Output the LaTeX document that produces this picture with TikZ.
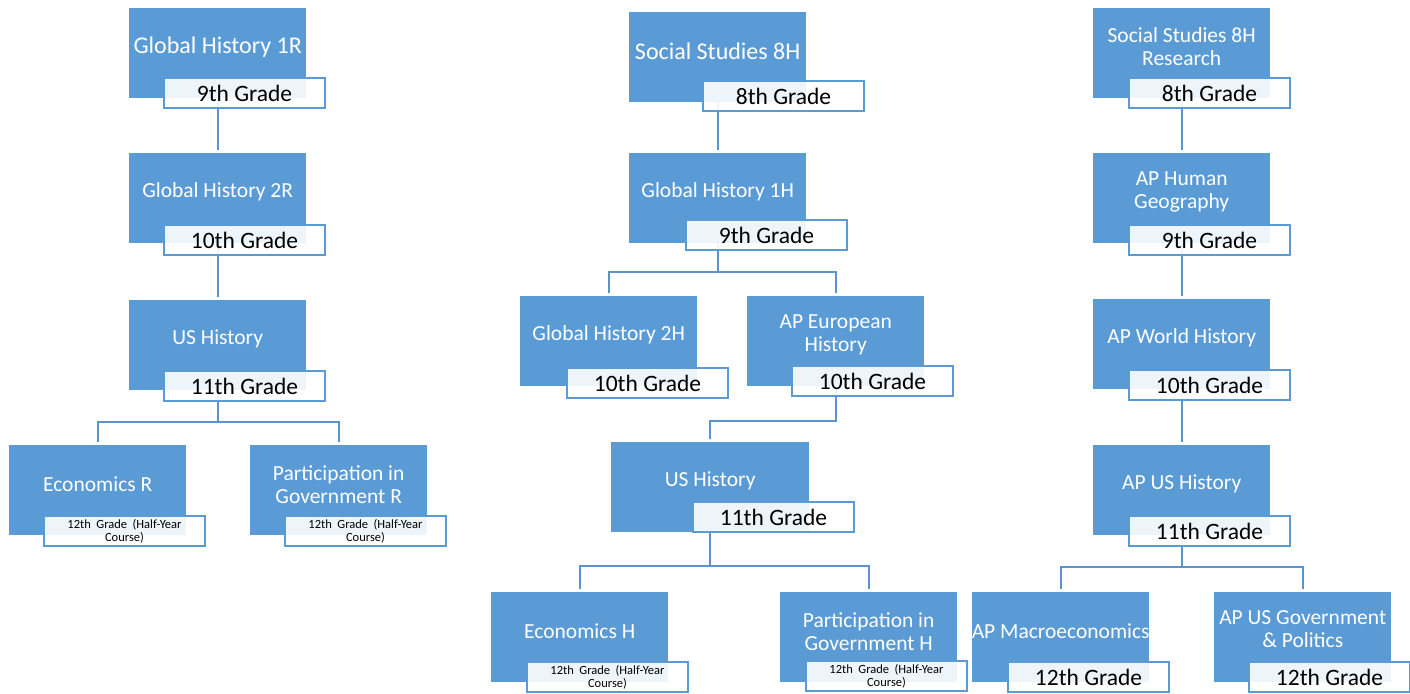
\documentclass[tikz,border=0pt]{standalone}
\usepackage{fontspec}
\setmainfont{Carlito}
\usetikzlibrary{positioning}

\definecolor{boxblue}{HTML}{5B9BD5}
\definecolor{lineblue}{HTML}{5A93CF}

\begin{document}
\begin{tikzpicture}[x=1pt,y=-1pt,
	course/.style={rectangle,fill=boxblue,anchor=north west,minimum width=177pt,minimum height=90pt,inner sep=0pt},
	title/.style={text=white,align=center,inner sep=0pt,font=\fontsize{21.5}{23}\selectfont},
	big title/.style={title,font=\fontsize{24}{26}\selectfont},
	grade/.style={rectangle,draw=boxblue,line width=2pt,fill=white,fill opacity=0.9,text opacity=1,anchor=north west,minimum width=161pt,minimum height=30pt,inner sep=0pt,text=black,font=\fontsize{23.5}{25}\selectfont},
	half grade/.style={grade,align=center,font={\fontsize{12.5}{13}\selectfont\spaceskip=5.5pt plus 1pt}},
	link/.style={draw=lineblue,line width=2pt,shorten >=3pt}]

	\useasboundingbox (0,0) rectangle (1410,693);

	% regents track
	\node[course] (gh1r) at (129,8) {};
	\node[course] (gh2r) at (129,153) {};
	\node[course] (usr) at (129,300) {};
	\node[course] (econr) at (9,445) {};
	\node[course] (partr) at (250,445) {};

	\node[big title] (gh1r text) at ([yshift=6pt]gh1r.center) {Global History 1R};
	\node[title] (gh2r text) at ([yshift=6pt]gh2r.center) {Global History 2R};
	\node[title] (usr text) at ([yshift=6pt]usr.center) {US History};
	\node[title] (econr text) at ([yshift=6pt]econr.center) {Economics R};
	\node[title] (partr text) at ([yshift=6pt]partr.center) {Participation in\\Government R};

	% honors track
	\node[course] (ss8h) at (629,12) {};
	\node[course] (gh1h) at (629,153) {};
	\node[course] (gh2h) at (520,296) {};
	\node[course] (euro) at (747,296) {};
	\node[course,minimum width=198pt] (ush) at (611,442) {};
	\node[course] (econh) at (491,592) {};
	\node[course] (parth) at (780,592) {};

	\node[big title] (ss8h text) at ([yshift=6pt]ss8h.center) {Social Studies 8H};
	\node[title] (gh1h text) at ([yshift=6pt]gh1h.center) {Global History 1H};
	\node[title] (gh2h text) at ([yshift=6pt]gh2h.center) {Global History 2H};
	\node[title] (euro text) at ([yshift=6pt]euro.center) {AP European\\History};
	\node[title] (ush text) at ([yshift=6pt]ush.center) {US History};
	\node[title] (econh text) at ([yshift=6pt]econh.center) {Economics H};
	\node[title] (parth text) at ([yshift=6pt]parth.center) {Participation in\\Government H};

	% AP track
	\node[course] (ss8hr) at (1093,8) {};
	\node[course] (aphg) at (1093,153) {};
	\node[course] (apwh) at (1093,299) {};
	\node[course] (apush) at (1093,445) {};
	\node[course] (macro) at (972,592) {};
	\node[course] (apgov) at (1214,592) {};

	\node[title] (ss8hr text) at ([yshift=7pt]ss8hr.center) {Social Studies 8H\\Research};
	\node[title] (aphg text) at ([yshift=6pt]aphg.center) {AP Human\\Geography};
	\node[title] (apwh text) at ([yshift=6pt]apwh.center) {AP World History};
	\node[title] (apush text) at ([yshift=6pt]apush.center) {AP US History};
	\node[title] (macro text) at ([yshift=6pt]macro.center) {AP Macroeconomics};
	\node[title] (apgov text) at ([yshift=8pt]apgov.center) {AP US Government\\\&~Politics};

	% connectors
	\path[link] (gh1r) edge (gh2r)
		(gh2r) edge (usr)
		(ss8h) edge (gh1h)
		(ss8hr) edge (aphg)
		(aphg) edge (apwh)
		(apwh) edge (apush);
	\draw[link] (usr.south) -- ++(0,32) -| (econr.north);
	\draw[link] (usr.south) -- ++(0,32) -| (partr.north);
	\draw[link] (gh1h.south) -- ++(0,29) -| (gh2h.north);
	\draw[link] (gh1h.south) -- ++(0,29) -| (euro.north);
	\draw[link] (euro.south) -- ++(0,35) -| (ush.north);
	\draw[link] (ush.south) -- ++(0,34) -| (econh.north);
	\draw[link] (ush.south) -- ++(0,34) -| (parth.north);
	\draw[link] (apush.south) -- ++(0,32) -| (macro.north);
	\draw[link] (apush.south) -- ++(0,32) -| (apgov.north);

	% grade tags
	\node[grade] (gh1r grade) at (163,77) {9th Grade};
	\node[grade] (gh2r grade) at (163,224) {10th Grade};
	\node[grade] (usr grade) at (163,370) {11th Grade};
	\node[half grade] (econr grade) at (43,515) {12th Grade (Half-Year\\Course)};
	\node[half grade] (partr grade) at (284,515) {12th Grade (Half-Year\\Course)};

	\node[grade] (ss8h grade) at (702,80) {8th Grade};
	\node[grade] (gh1h grade) at (685,219) {9th Grade};
	\node[grade] (gh2h grade) at (566,367) {10th Grade};
	\node[grade] (euro grade) at (791,365) {10th Grade};
	\node[grade] (ush grade) at (692,501) {11th Grade};
	\node[half grade] (econh grade) at (526,661) {12th Grade (Half-Year\\Course)};
	\node[half grade] (parth grade) at (805,660) {12th Grade (Half-Year\\Course)};

	\node[grade] (ss8hr grade) at (1128,77) {8th Grade};
	\node[grade] (aphg grade) at (1128,224) {9th Grade};
	\node[grade] (apwh grade) at (1128,369) {10th Grade};
	\node[grade] (apush grade) at (1128,515) {11th Grade};
	\node[grade] (macro grade) at (1007,661) {12th Grade};
	\node[grade] (apgov grade) at (1248,661) {12th Grade};
\end{tikzpicture}
\end{document}
